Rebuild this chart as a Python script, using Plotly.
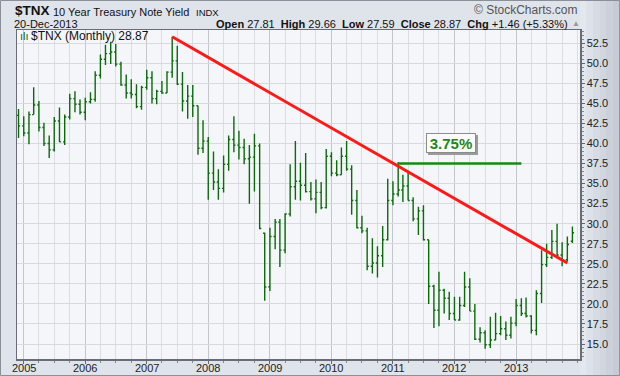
import plotly.graph_objects as go
import pandas as pd

# ---------------- data (yield x10, monthly bars) ----------------
months = pd.date_range("2004-12-01", "2013-12-01", freq="MS")

opens = [43.5, 42.2, 41.3, 43.6, 44.8, 42.0, 40.0, 39.2, 42.8, 40.2, 43.3, 45.6, 44.9,
         43.9, 45.2, 45.5, 48.5, 50.5, 51.2, 51.4, 49.9, 47.3, 46.3, 46.1, 44.6,
         47.0, 48.2, 45.6, 46.5, 46.3, 48.9, 50.3, 47.4, 45.3, 45.9, 44.7, 39.4,
         40.3, 36.3, 35.2, 34.4, 37.4, 40.5, 39.8, 39.5, 38.1, 38.3, 39.7, 28.8,
         22.1, 28.4, 30.2, 26.7, 31.2, 34.6, 35.3, 34.8, 34.0, 33.1, 33.9, 32.0,
         38.4, 36.3, 36.1, 38.4, 36.8, 32.9, 29.5, 29.1, 24.7, 25.1, 26.0, 28.0,
         32.9, 33.7, 34.2, 34.7, 32.9, 30.6, 31.6, 28.0, 22.2, 19.2, 21.7, 20.7,
         18.8, 18.0, 19.8, 22.1, 19.1, 15.6, 16.4, 14.9, 15.5, 16.3, 16.9, 16.1,
         17.6, 19.8, 18.8, 18.5, 16.7, 21.3, 24.9, 25.8, 27.8, 26.1, 25.5, 27.81]
highs = [44.3, 43.4, 44.0, 47.0, 45.3, 42.6, 41.0, 43.3, 44.5, 43.6, 46.2, 46.5, 45.5,
         45.7, 46.4, 49.0, 51.1, 52.3, 52.7, 52.4, 50.2, 48.6, 48.0, 47.4, 47.2,
         49.2, 49.0, 46.7, 47.8, 49.0, 53.3, 52.2, 48.9, 47.3, 47.3, 44.7, 42.9,
         40.8, 39.0, 36.8, 38.5, 41.0, 43.4, 41.6, 40.6, 39.8, 41.2, 40.0, 28.9,
         29.5, 30.6, 30.6, 31.3, 37.4, 40.3, 37.6, 38.8, 35.2, 35.5, 35.2, 39.3,
         38.9, 37.9, 39.5, 40.3, 37.3, 34.2, 31.0, 29.5, 28.2, 27.2, 29.7, 35.6,
         35.3, 37.7, 36.1, 36.6, 33.3, 32.1, 32.3, 28.0, 22.4, 24.0, 21.9, 21.5,
         20.9, 20.9, 24.0, 23.2, 20.0, 17.1, 16.7, 18.4, 18.9, 18.5, 17.8, 18.4,
         20.6, 20.7, 20.8, 18.6, 21.7, 26.7, 27.5, 29.2, 30.0, 27.7, 28.4, 29.66]
lows = [40.7, 40.9, 39.9, 43.6, 41.5, 39.7, 38.2, 39.0, 40.2, 39.8, 43.0, 43.9, 43.6,
        42.9, 45.0, 45.2, 48.1, 49.8, 49.9, 49.6, 47.2, 45.6, 45.6, 44.4, 44.2,
        46.7, 45.0, 44.9, 46.2, 46.3, 48.2, 47.3, 44.0, 43.1, 43.3, 38.6, 38.8,
        33.0, 34.2, 33.0, 33.9, 36.6, 38.9, 38.0, 37.4, 32.5, 34.0, 29.3, 20.4,
        21.6, 26.8, 24.6, 26.3, 30.9, 33.0, 32.9, 33.9, 32.9, 31.3, 31.8, 31.9,
        35.9, 35.9, 36.1, 36.6, 31.1, 29.4, 28.8, 24.2, 23.8, 23.3, 24.6, 27.9,
        32.3, 33.4, 32.7, 32.9, 30.3, 28.6, 27.9, 20.0, 17.0, 17.2, 18.8, 18.0,
        18.0, 17.9, 19.6, 19.1, 15.5, 15.2, 14.4, 14.5, 15.5, 16.1, 15.5, 15.7,
        17.2, 18.5, 18.3, 16.3, 16.1, 20.1, 24.6, 25.6, 25.7, 24.7, 25.3, 27.59]
closes = [42.2, 41.3, 43.6, 44.8, 42.0, 40.0, 39.2, 42.8, 40.2, 43.3, 45.6, 44.9, 43.9,
          45.2, 45.5, 48.5, 50.5, 51.2, 51.4, 49.9, 47.3, 46.3, 46.1, 44.6, 47.0,
          48.2, 45.6, 46.5, 46.3, 48.9, 50.3, 47.4, 45.3, 45.9, 44.7, 39.4, 40.3,
          36.3, 35.2, 34.4, 37.4, 40.5, 39.8, 39.5, 38.1, 38.3, 39.7, 29.4, 22.1,
          28.4, 30.2, 26.7, 31.2, 34.6, 35.3, 34.8, 34.0, 33.1, 33.9, 32.0, 38.4,
          36.3, 36.1, 38.4, 36.8, 32.9, 29.5, 29.1, 24.7, 25.1, 26.0, 28.0, 32.9,
          33.7, 34.2, 34.7, 32.9, 30.6, 31.6, 28.0, 22.2, 19.2, 21.7, 20.7, 18.8,
          18.0, 19.8, 22.1, 19.1, 15.6, 16.4, 14.9, 15.5, 16.3, 16.9, 16.1, 17.6,
          19.8, 18.8, 18.5, 16.7, 21.3, 24.9, 25.8, 27.8, 26.1, 25.5, 27.4, 28.87]

# annotation lines
trend_x = ["2007-06-01", "2013-11-01"]
trend_y = [53.3, 25.1]
level_x = ["2011-02-01", "2013-02-01"]
level_y = [37.5, 37.5]
level_label = "3.75%"
label_pos = ("2011-12-10", 40.05)

year_ticks = pd.date_range("2005-01-01", "2013-01-01", freq="YS")
year_labels = [str(d.year) for d in year_ticks]
y_ticks = [15.0 + 2.5 * k for k in range(16)]

# ---------------- figure ----------------
L, R, T, B = 17, 40, 30, 17
W, H = 620, 376
PW, PH = W - L - R, H - T - B


def px(x):
    return (x - L) / PW


def py(y):
    return (H - B - y) / PH


fig = go.Figure()

fig.add_trace(go.Ohlc(
    x=months, open=opens, high=highs, low=lows, close=closes,
    increasing=dict(line=dict(color="#0b6b0b", width=1.4)),
    decreasing=dict(line=dict(color="#0b6b0b", width=1.4)),
    tickwidth=0.35, showlegend=False, hoverinfo="skip",
))

fig.add_trace(go.Scatter(x=level_x, y=level_y, mode="lines",
                         line=dict(color="#138a13", width=2.5),
                         showlegend=False, hoverinfo="skip"))
fig.add_trace(go.Scatter(x=trend_x, y=trend_y, mode="lines",
                         line=dict(color="#ff1a1a", width=3),
                         showlegend=False, hoverinfo="skip"))

font = "Arial, Liberation Sans, sans-serif"
ann = []
# label with shadow
ann.append(dict(x=label_pos[0], y=label_pos[1], xref="x", yref="y", text=" ",
                showarrow=False, width=44, height=14, bgcolor="#9a9a9a",
                borderpad=2, borderwidth=1, bordercolor="#9a9a9a",
                xshift=2, yshift=-2, font=dict(size=15)))
ann.append(dict(x=label_pos[0], y=label_pos[1], xref="x", yref="y",
                text="<b>%s</b>" % level_label, showarrow=False, width=44, height=14,
                bgcolor="#fbfbfb", bordercolor="#8c8c8c", borderwidth=1, borderpad=2,
                font=dict(family=font, size=15, color="#1a8a1a")))
# year labels under the x axis
for d, lab in zip(year_ticks, year_labels):
    ann.append(dict(x=d, y=py(367.5), xref="x", yref="paper", xanchor="center",
                    yanchor="middle", text=lab, showarrow=False,
                    font=dict(family=font, size=11, color="#222")))
# header
ann.append(dict(x=px(13), y=py(11), xref="paper", yref="paper", xanchor="left",
                yanchor="middle", text="<b>$TNX</b>", showarrow=False,
                font=dict(family=font, size=13.5, color="#111")))
ann.append(dict(x=px(51), y=py(12), xref="paper", yref="paper", xanchor="left",
                yanchor="middle", text="10 Year Treasury Note Yield", showarrow=False,
                font=dict(family=font, size=11, color="#111")))
ann.append(dict(x=px(194), y=py(12.5), xref="paper", yref="paper", xanchor="left",
                yanchor="middle", text="INDX", showarrow=False,
                font=dict(family=font, size=9.5, color="#111")))
ann.append(dict(x=px(580), y=py(10.5), xref="paper", yref="paper", xanchor="right",
                yanchor="middle", text="© StockCharts.com", showarrow=False,
                font=dict(family=font, size=12, color="#555")))
ann.append(dict(x=px(12), y=py(24), xref="paper", yref="paper", xanchor="left",
                yanchor="middle", text="20-Dec-2013", showarrow=False,
                font=dict(family=font, size=11, color="#111")))
ann.append(dict(x=px(570), y=py(24), xref="paper", yref="paper", xanchor="right",
                yanchor="middle",
                text="<b>Open</b> 27.81  <b>High</b> 29.66  <b>Low</b> 27.59  "
                     "<b>Close</b> 28.87  <b>Chg</b> +1.46 (+5.33%)",
                showarrow=False, font=dict(family=font, size=11, color="#111")))
ann.append(dict(x=px(570), y=py(24), xref="paper", yref="paper", xanchor="left",
                yanchor="middle", text="▲", showarrow=False,
                font=dict(family=font, size=8, color="#999")))
ann.append(dict(x=px(29), y=py(36), xref="paper", yref="paper", xanchor="left",
                yanchor="middle", text="$TNX (Monthly) 28.87", showarrow=False,
                font=dict(family=font, size=12, color="#111")))
ann.append(dict(x=px(18), y=py(36), xref="paper", yref="paper", xanchor="left",
                yanchor="middle", text="ılı", showarrow=False,
                font=dict(family=font, size=11, color="#0b6b0b")))

shapes = [
    dict(type="rect", xref="paper", yref="paper", x0=px(0.5), x1=px(619.5),
         y0=py(375.5), y1=py(0.5), line=dict(color="#8a8f99", width=1),
         layer="below"),
]
strip_cols = ["#e3e7ee", "#dde1e9", "#d7dce4", "#d1d6df", "#cbd0da", "#c6cbd5"]
for k, c in enumerate(strip_cols):
    x0 = 580 + k * 6.5
    shapes.append(dict(type="rect", xref="paper", yref="paper", x0=px(x0), x1=px(x0 + 6.6),
                       y0=py(375), y1=py(1), fillcolor=c, line=dict(width=0),
                       layer="below"))

fig.update_layout(
    width=W, height=H,
    margin=dict(l=L, r=R, t=T, b=B, pad=0, autoexpand=False),
    paper_bgcolor="#dfe3ea",
    plot_bgcolor="#f5f6fa",
    annotations=ann,
    shapes=shapes,
    showlegend=False,
    xaxis=dict(
        type="date", range=["2004-11-22", "2014-01-15"],
        tickvals=list(year_ticks), showticklabels=False,
        showgrid=True, gridcolor="#c4c6cd", gridwidth=1,
        minor=dict(dtick="M3", tick0="2005-01-01", showgrid=True,
                   gridcolor="#dcdde3", ticks="outside", ticklen=2, tickcolor="#888"),
        ticks="outside", ticklen=3, tickcolor="#666",
        showline=True, linecolor="#676c76", linewidth=1.5, mirror=True,
        rangeslider=dict(visible=False), zeroline=False, fixedrange=True,
        automargin=False,
    ),
    yaxis=dict(
        side="right", range=[13.13, 54.15],
        tickvals=y_ticks, ticktext=["%.1f" % v for v in y_ticks],
        showgrid=True, gridcolor="#d9dae0", gridwidth=1,
        ticks="outside", ticklen=3, tickcolor="#666",
        minor=dict(dtick=0.5, tick0=0, ticks="outside", ticklen=2, tickcolor="#888",
                   showgrid=False),
        showline=True, linecolor="#676c76", linewidth=1.5, mirror=True,
        tickfont=dict(family=font, size=11, color="#222"),
        zeroline=False, fixedrange=True, automargin=False,
    ),
)

fig.write_html(
    "out.html",
    config={"displayModeBar": False, "staticPlot": True},
    post_script="document.body.style.margin='0';document.body.style.padding='0';"
                "document.body.style.overflow='hidden';",
)
